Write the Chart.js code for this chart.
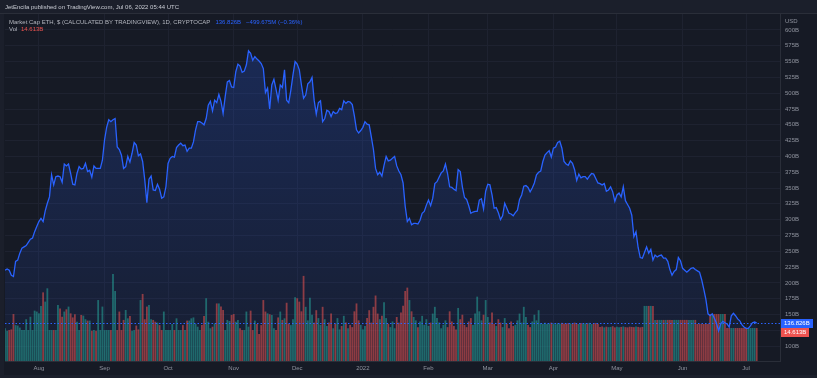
<!DOCTYPE html>
<html>
<head>
<meta charset="utf-8">
<script src="https://cdn.jsdelivr.net/npm/chart.js@4.4.1/dist/chart.umd.min.js"></script>
<style>
  html, body { margin: 0; padding: 0; background: #161a25; overflow: hidden; }
  canvas { display: block; }
</style>
</head>
<body>
<canvas id="chart" width="817" height="378"></canvas>
<script>
// Market cap ETH (billions USD), daily, Jul 16 2021 -> Jul 06 2022
const marketCap = [
  220,222,220,212,210,234,236,247,255,257,
  259,264,269,271,281,289,297,302,297,314,
  326,336,371,355,368,369,368,359,388,385,
  388,373,356,355,373,384,380,381,389,376,
  378,367,385,381,381,381,394,426,446,458,
  455,458,460,415,411,402,381,384,400,391,
  405,422,418,401,404,392,363,327,364,369,
  347,346,356,348,334,336,352,389,397,400,
  399,414,418,421,417,418,408,413,413,423,
  442,455,455,453,450,460,481,487,472,489,
  485,498,487,468,495,518,520,510,509,534,
  546,543,533,535,545,567,563,552,558,554,
  551,547,539,501,508,475,513,522,506,489,
  513,509,537,489,485,505,529,550,546,537,
  513,492,497,515,518,525,489,467,485,488,
  455,460,473,471,463,471,468,469,476,474,
  488,484,487,486,482,464,442,437,441,446,
  455,451,450,431,411,381,371,375,369,386,
  400,393,394,397,400,385,377,371,358,321,
  297,302,292,294,294,293,299,310,313,323,
  331,322,334,357,360,367,374,377,388,373,
  352,351,348,346,379,376,352,335,332,322,
  310,312,313,313,331,333,317,345,356,355,
  339,318,319,311,300,306,326,318,310,309,
  306,311,315,332,339,353,354,351,344,350,
  358,371,375,377,392,402,406,409,399,413,
  415,422,424,413,392,388,386,393,389,379,
  362,372,366,368,368,364,369,373,372,365,
  358,357,355,357,345,347,352,344,329,339,
  342,336,352,330,324,318,307,273,281,256,
  240,239,248,257,247,253,236,244,241,243,
  244,239,239,234,221,212,218,221,240,235,
  223,220,217,220,223,224,221,219,217,205,
  190,174,151,148,151,144,136,124,135,139,
  137,135,130,148,152,148,143,140,134,130,
  128,128,132,137,138,136.826
];

// Volume (billions), same days
const volume = [
  14.5,13.4,13.7,14.0,20.8,15.9,15.7,14.8,13.7,13.7,
  18.5,13.7,19.6,13.7,22.3,21.9,21.1,24.4,30.4,26.3,
  32.2,13.7,13.7,13.7,13.7,24.8,23.3,19.6,21.9,22.9,
  24.1,21.1,19.3,20.7,17.4,13.7,20.4,20.1,18.5,17.9,
  17.9,13.4,13.7,13.4,27.0,13.7,24.1,13.7,13.7,13.7,
  13.7,38.5,31.0,13.7,21.9,13.7,18.2,22.6,18.9,19.9,
  13.4,13.7,15.7,14.0,27.0,29.7,18.5,24.1,24.8,18.5,
  18.2,17.4,17.0,15.9,13.7,21.9,13.7,13.7,13.7,16.4,
  13.7,18.9,13.7,13.7,15.9,13.7,17.9,17.9,18.9,19.3,
  16.4,15.2,13.7,15.9,19.9,27.8,17.4,14.5,15.2,16.7,
  25.5,25.5,24.1,22.6,13.7,18.2,17.7,20.4,20.8,17.4,
  18.2,14.5,13.7,13.7,21.9,15.2,22.3,13.7,17.9,16.4,
  12.0,15.9,27.0,21.9,21.1,20.7,20.4,14.5,13.7,19.3,
  21.9,18.2,18.9,25.8,16.4,15.9,18.5,28.2,27.8,26.3,
  22.0,37.7,24.0,18.0,28.0,20.5,17.0,22.5,19.0,16.0,
  24.0,18.5,15.5,17.0,21.0,14.5,16.5,19.0,14.0,15.5,
  20.0,17.0,14.5,16.0,15.0,22.0,25.5,18.0,16.0,14.0,
  15.5,19.0,22.5,17.0,24.0,29.0,21.0,18.5,20.0,26.0,
  19.0,16.5,15.0,17.5,14.5,19.5,17.0,21.5,24.5,31.0,
  32.5,27.0,22.0,19.5,18.0,15.0,17.5,20.0,16.0,18.5,
  15.5,17.0,21.0,24.0,19.0,17.0,14.5,16.0,18.0,15.0,
  22.0,17.5,15.5,14.0,23.5,18.5,20.5,16.0,15.0,17.5,
  19.0,16.0,21.0,28.5,22.0,18.0,20.5,27.0,19.5,17.0,
  21.5,16.5,15.5,18.5,17.0,15.0,19.0,16.5,14.5,17.5,
  15.5,16.0,18.0,21.0,17.0,24.0,19.5,16.0,15.0,17.5,
  20.5,18.0,22.5,
  16.8,16.5,16.9,16.4,16.7,17.0,16.6,16.3,16.8,16.5,
  16.9,16.6,16.4,16.8,16.7,16.5,17.0,16.6,16.4,16.8,
  16.5,16.7,16.6,16.9,16.4,16.6,16.8,16.5,
  15.1,15.3,14.9,15.2,15.0,15.1,15.4,14.9,15.2,15.0,
  15.1,15.3,15.0,14.9,15.2,15.1,15.0,15.3,15.1,14.9,15.1,
  24.4,24.4,24.4,24.4,24.4,
  18.2,18.2,18.2,18.2,18.2,18.2,18.2,18.2,18.2,18.2,
  18.2,18.2,18.2,18.2,18.2,18.2,18.2,18.2,18.2,18.2,
  16.4,16.4,16.4,16.4,16.4,16.4,
  20.8,20.8,20.8,20.8,20.8,20.8,20.8,20.8,
  14.613,14.613,14.613,14.613,14.613,14.613,14.613,14.613,
  14.613,14.613,14.613,14.613,14.613,14.613,14.613
];

// month starts as day index from Jul 16 2021
const monthTicks = [16, 47, 77, 108, 138, 169, 200, 228, 259, 289, 320, 350];
const monthLabels = ['Aug', 'Sep', 'Oct', 'Nov', 'Dec', '2022', 'Feb', 'Mar', 'Apr', 'May', 'Jun', 'Jul'];
const priceTicks = [100,125,150,175,200,225,250,275,300,325,350,375,400,425,450,475,500,525,550,575,600];

const lastCap = 136.826;
const lastVol = 14.613;
const headerTitle = 'JetEncila published on TradingView.com, Jul 06, 2022 05:44 UTC';
const seriesTitle = 'Market Cap ETH, $ (CALCULATED BY TRADINGVIEW), 1D, CRYPTOCAP';
const changeText = '\u2212499.675M (\u22120.36%)';

const FONT = "'Liberation Sans', Arial, sans-serif";
const BLUE = '#2962ff';
const RED = '#ef5350';
const GRID = '#1e2230';
const AXIS_TXT = '#8f939e';

const volColors = volume.map((v, i) =>
  i === 0 || marketCap[i] >= marketCap[i - 1] ? 'rgba(38,166,154,0.55)' : 'rgba(239,83,80,0.55)'
);

function areaFill(ctx) {
  const { chart } = ctx;
  const area = chart.chartArea;
  if (!area) return 'rgba(41,98,255,0.1)';
  const g = chart.ctx.createLinearGradient(0, area.top, 0, area.bottom);
  g.addColorStop(0, 'rgba(41,98,255,0.24)');
  g.addColorStop(1, 'rgba(41,98,255,0.06)');
  return g;
}

const decor = {
  id: 'decor',
  beforeDraw(chart) {
    const c = chart.ctx;
    c.save();
    c.fillStyle = '#161a25';
    c.fillRect(0, 0, chart.width, chart.height);
    c.fillStyle = '#1b1f2b';
    c.fillRect(0, 0, chart.width, 13);
    c.fillRect(0, 0, 4, chart.height);
    c.fillRect(0, 375, chart.width, 3);
    c.fillStyle = '#2a2e39';
    c.fillRect(0, 13, chart.width, 1);
    c.restore();
  },
  afterDraw(chart) {
    const c = chart.ctx;
    const area = chart.chartArea;
    const y = chart.scales.y;
    const py = Math.round(y.getPixelForValue(lastCap)) + 0.5;
    c.save();

    // last price dotted line
    c.strokeStyle = BLUE;
    c.lineWidth = 1;
    c.setLineDash([1.5, 2]);
    c.beginPath();
    c.moveTo(area.left, py);
    c.lineTo(area.right, py);
    c.stroke();
    c.setLineDash([]);

    // price / volume labels on the axis
    c.font = '6px ' + FONT;
    c.textBaseline = 'middle';
    c.fillStyle = BLUE;
    c.fillRect(area.right + 1, py - 4.5, 32, 9);
    c.fillStyle = '#ffffff';
    c.fillText(lastCap.toFixed(3) + 'B', area.right + 4, py);
    c.fillStyle = RED;
    c.fillRect(area.right + 1, py + 4.5, 28, 9);
    c.fillStyle = '#ffffff';
    c.fillText(lastVol.toFixed(3) + 'B', area.right + 4, py + 9);

    c.fillStyle = AXIS_TXT;
    c.fillText('USD', area.right + 5, 21);

    // header texts
    c.fillStyle = '#c8cbd3';
    c.fillText(headerTitle, 5, 7);
    c.fillStyle = '#b2b5be';
    c.fillText(seriesTitle, 9, 22);
    let x = 9 + c.measureText(seriesTitle).width + 5;
    c.fillStyle = BLUE;
    const capTxt = lastCap.toFixed(3) + 'B';
    c.fillText(capTxt, x, 22);
    x += c.measureText(capTxt).width + 5;
    c.fillText(changeText, x, 22);
    c.fillStyle = '#b2b5be';
    c.fillText('Vol', 9, 29);
    c.fillStyle = RED;
    c.fillText(lastVol.toFixed(3) + 'B', 21, 29);
    c.restore();
  }
};

new Chart(document.getElementById('chart'), {
  type: 'bar',
  data: {
    datasets: [
      {
        type: 'line',
        data: marketCap.map((v, i) => ({ x: i, y: v })),
        yAxisID: 'y',
        borderColor: BLUE,
        borderWidth: 1.3,
        pointRadius: 0,
        tension: 0,
        fill: 'start',
        backgroundColor: areaFill,
        order: 1
      },
      {
        type: 'bar',
        data: volume.map((v, i) => ({ x: i, y: v })),
        yAxisID: 'yv',
        backgroundColor: volColors,
        barPercentage: 0.85,
        categoryPercentage: 1,
        order: 2
      }
    ]
  },
  options: {
    responsive: false,
    animation: false,
    layout: { padding: { left: 5, top: 14, right: 0, bottom: 0 } },
    plugins: {
      legend: { display: false },
      tooltip: { enabled: false },
      filler: { drawTime: 'beforeDatasetsDraw' }
    },
    scales: {
      x: {
        type: 'linear',
        min: 0,
        max: 366,
        offset: false,
        afterBuildTicks: s => { s.ticks = monthTicks.map(v => ({ value: v })); },
        afterFit: s => { s.height = 17; },
        ticks: {
          autoSkip: false,
          maxRotation: 0,
          padding: 4,
          color: AXIS_TXT,
          font: { size: 6, family: FONT },
          callback: v => monthLabels[monthTicks.indexOf(v)] || ''
        },
        grid: { color: GRID, drawTicks: false, offset: false },
        border: { color: '#2a2e39' }
      },
      y: {
        position: 'right',
        min: 76.4,
        max: 625.3,
        afterBuildTicks: s => { s.ticks = priceTicks.map(v => ({ value: v })); },
        afterFit: s => { s.width = 37; },
        ticks: {
          padding: 5,
          color: AXIS_TXT,
          font: { size: 6, family: FONT },
          callback: v => (v === 125 ? '' : v + 'B')
        },
        grid: { color: GRID, drawTicks: false },
        border: { color: '#2a2e39' }
      },
      yv: {
        display: false,
        min: 0,
        max: 153.7
      }
    }
  },
  plugins: [decor]
});
</script>
</body>
</html>
